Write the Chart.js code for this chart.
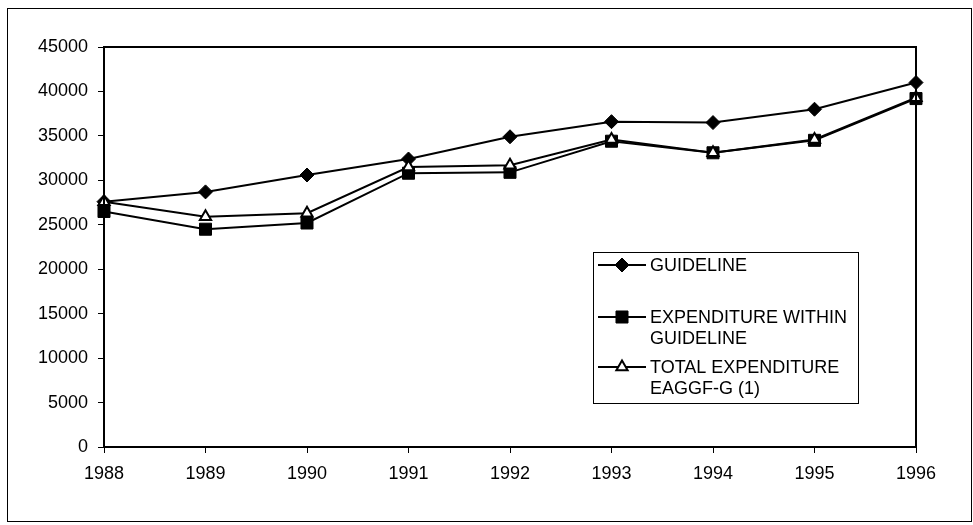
<!DOCTYPE html>
<html>
<head>
<meta charset="utf-8">
<script src="https://cdn.jsdelivr.net/npm/chart.js@4"></script>
<style>
  html, body { margin: 0; padding: 0; background: #fff; }
  #wrap { width: 973px; height: 525px; }
</style>
</head>
<body>
<div id="wrap"><canvas id="chart" width="973" height="525"></canvas></div>
<script>
const years = ['1988', '1989', '1990', '1991', '1992', '1993', '1994', '1995', '1996'];

const guideline = [27600, 28700, 30600, 32400, 34900, 36600, 36500, 38000, 41000];
const withinGuideline = [26500, 24500, 25200, 30800, 30900, 34400, 33100, 34500, 39200];
const totalExpenditure = [27600, 25900, 26300, 31500, 31700, 34600, 33100, 34600, 39300];

const legendLabels = [
  ['GUIDELINE'],
  ['EXPENDITURE WITHIN', 'GUIDELINE'],
  ['TOTAL EXPENDITURE', 'EAGGF-G (1)']
];

const FONT = '"Liberation Sans", Arial, sans-serif';

// white page, outer frame, plot frame and the boxed legend
const framePlugin = {
  id: 'frame',
  beforeDraw(chart) {
    const ctx = chart.ctx;
    ctx.save();
    ctx.fillStyle = '#fff';
    ctx.fillRect(0, 0, chart.width, chart.height);
    ctx.restore();
  },
  afterDraw(chart) {
    const ctx = chart.ctx;
    const a = chart.chartArea;
    ctx.save();
    ctx.strokeStyle = '#000';
    ctx.lineWidth = 1;
    ctx.strokeRect(7.5, 8.5, 964, 513);
    ctx.lineWidth = 2;
    ctx.strokeRect(a.left, a.top, a.right - a.left, a.bottom - a.top);

    // legend
    const lx = 593, ly = 252, lw = 265, lh = 151;
    ctx.fillStyle = '#fff';
    ctx.fillRect(lx, ly, lw, lh);
    ctx.lineWidth = 1;
    ctx.strokeRect(lx + 0.5, ly + 0.5, lw, lh);

    const rows = [265, 317, 367];
    ctx.font = '18px ' + FONT;
    ctx.textBaseline = 'middle';
    chart.data.datasets.forEach((ds, i) => {
      const y = rows[i];
      ctx.strokeStyle = '#000';
      ctx.lineWidth = 2;
      ctx.beginPath();
      ctx.moveTo(598, y);
      ctx.lineTo(646, y);
      ctx.stroke();
      ctx.fillStyle = ds.pointBackgroundColor;
      ctx.strokeStyle = '#000';
      ctx.lineWidth = ds.pointBorderWidth;
      Chart.helpers.drawPoint(ctx, {
        pointStyle: ds.pointStyle,
        radius: ds.pointRadius,
        rotation: 0,
        borderWidth: ds.pointBorderWidth
      }, 622, y);
      ctx.fillStyle = '#000';
      legendLabels[i].forEach((t, j) => ctx.fillText(t, 650, y + 1 + j * 21));
    });
    ctx.restore();
  }
};

new Chart(document.getElementById('chart'), {
  type: 'line',
  data: {
    labels: years,
    datasets: [
      {
        label: 'GUIDELINE',
        data: guideline,
        borderColor: '#000',
        borderWidth: 2,
        pointStyle: 'rectRot',
        pointRadius: 7,
        pointBorderWidth: 1,
        pointBackgroundColor: '#000',
        pointBorderColor: '#000',
        tension: 0,
        order: 2
      },
      {
        label: 'EXPENDITURE WITHIN GUIDELINE',
        data: withinGuideline,
        borderColor: '#000',
        borderWidth: 2,
        pointStyle: 'rect',
        pointRadius: 8.5,
        pointBorderWidth: 1,
        pointBackgroundColor: '#000',
        pointBorderColor: '#000',
        tension: 0,
        order: 1
      },
      {
        label: 'TOTAL EXPENDITURE EAGGF-G (1)',
        data: totalExpenditure,
        borderColor: '#000',
        borderWidth: 2,
        pointStyle: 'triangle',
        pointRadius: 6.5,
        pointBorderWidth: 2,
        pointBackgroundColor: '#fff',
        pointBorderColor: '#000',
        tension: 0,
        order: 0
      }
    ]
  },
  options: {
    responsive: false,
    animation: false,
    layout: { padding: { left: 0, top: 47, right: 57, bottom: 0 } },
    plugins: {
      legend: { display: false },
      tooltip: { enabled: false }
    },
    scales: {
      x: {
        offset: false,
        afterFit: (s) => { s.height = 78; },
        grid: { drawOnChartArea: false, color: '#000', tickLength: 6, offset: false },
        border: { color: '#000', width: 2 },
        ticks: { color: '#000', font: { family: FONT, size: 18 }, padding: 10, maxRotation: 0, autoSkip: false }
      },
      y: {
        min: 0,
        max: 45000,
        afterFit: (s) => { s.width = 104; },
        grid: { drawOnChartArea: false, color: '#000', tickLength: 6 },
        border: { color: '#000', width: 2 },
        ticks: {
          stepSize: 5000,
          color: '#000',
          font: { family: FONT, size: 18 },
          padding: 10,
          callback: (v) => String(v)
        }
      }
    }
  },
  plugins: [framePlugin]
});
</script>
</body>
</html>
